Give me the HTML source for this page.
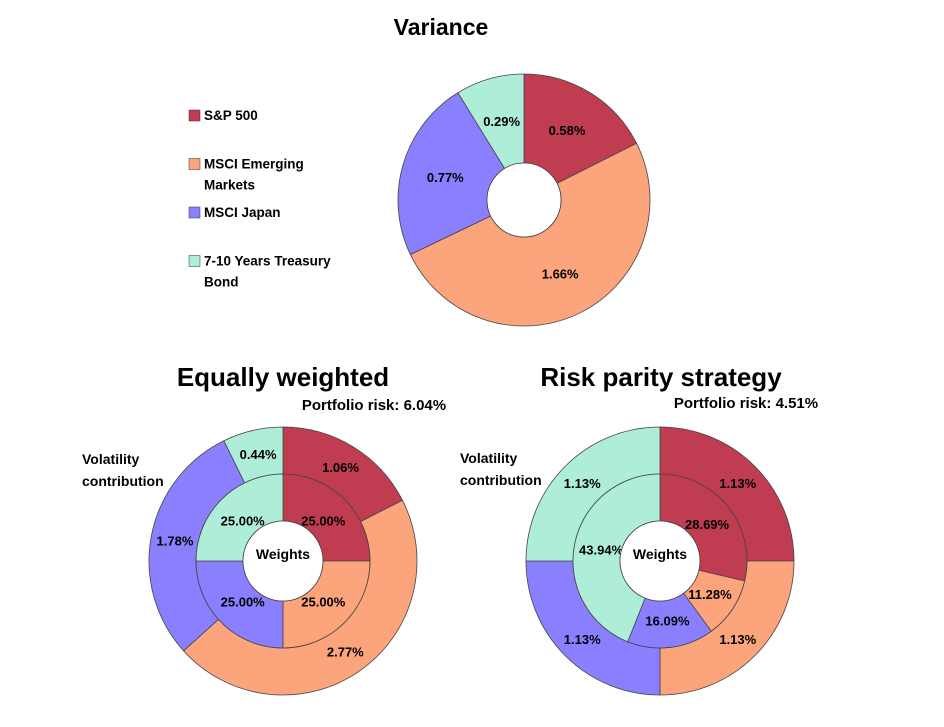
<!DOCTYPE html>
<html><head><meta charset="utf-8"><style>
body{margin:0;background:#fff;}
svg{display:block;font-family:"Liberation Sans",sans-serif;font-weight:bold;}
</style></head><body>
<svg id="chart" width="944" height="727" viewBox="0 0 944 727">
<text x="441" y="35" text-anchor="middle" font-size="23">Variance</text>
<text x="283" y="386" text-anchor="middle" font-size="26">Equally weighted</text>
<text x="661" y="386" text-anchor="middle" font-size="26">Risk parity strategy</text>
<text x="374" y="410" text-anchor="middle" font-size="15">Portfolio risk: 6.04%</text>
<text x="746" y="408" text-anchor="middle" font-size="15">Portfolio risk: 4.51%</text>
<text x="82" y="464" font-size="14">Volatility</text>
<text x="82" y="486" font-size="14">contribution</text>
<text x="460" y="463" font-size="14">Volatility</text>
<text x="460" y="485" font-size="14">contribution</text>
<g id="legend"></g>
<g id="pies"></g>
</svg>
<script>
const assets = ["S&P 500", "MSCI Emerging|Markets", "MSCI Japan", "7-10 Years Treasury|Bond"];
const colors = ["#c03c50", "#fca47c", "#8a80ff", "#aeeed8"];
const varianceValues = [0.58, 1.66, 0.77, 0.29];
const equalContrib = [1.06, 2.77, 1.78, 0.44];
const equalWeights = [25.00, 25.00, 25.00, 25.00];
const parityContrib = [1.13, 1.13, 1.13, 1.13];
const parityWeights = [28.69, 11.28, 16.09, 43.94];

const NS = "http://www.w3.org/2000/svg";
const pies = document.getElementById("pies");
const legend = document.getElementById("legend");

assets.forEach((a, i) => {
  const y = 110 + i * 48.5;
  const r = document.createElementNS(NS, "rect");
  r.setAttribute("x", 189); r.setAttribute("y", y); r.setAttribute("width", 11); r.setAttribute("height", 11);
  r.setAttribute("fill", colors[i]); r.setAttribute("stroke", "#333"); r.setAttribute("stroke-width", 0.5);
  
  
  legend.appendChild(r);
  a.split("|").forEach((line, k) => {
    const t = document.createElementNS(NS, "text");
    t.setAttribute("x", 204); t.setAttribute("y", y + 10 + k * 21);
    t.setAttribute("font-size", 13.5);
    t.textContent = line;
    
    
    legend.appendChild(t);
  });
});

function ring(cx, cy, r0, r1, vals, labels, labelR, name) {
  const tot = vals.reduce((s, v) => s + v, 0);
  let a = 0;
  vals.forEach((v, i) => {
    const a0 = a, a1 = a + v / tot * 2 * Math.PI; a = a1;
    const p = (ang, r) => [cx + r * Math.sin(ang), cy - r * Math.cos(ang)];
    const large = (a1 - a0) > Math.PI ? 1 : 0;
    const [x0, y0] = p(a0, r1), [x1, y1] = p(a1, r1), [x2, y2] = p(a1, r0), [x3, y3] = p(a0, r0);
    const d = `M${x0},${y0} A${r1},${r1} 0 ${large} 1 ${x1},${y1} L${x2},${y2} ` +
      (r0 > 0 ? `A${r0},${r0} 0 ${large} 0 ${x3},${y3}` : "") + " Z";
    const path = document.createElementNS(NS, "path");
    path.setAttribute("d", d); path.setAttribute("fill", colors[i]);
    path.setAttribute("stroke", "#444"); path.setAttribute("stroke-width", 0.8);
    
    
    pies.appendChild(path);
    const [lx, ly] = p((a0 + a1) / 2, labelR);
    const t = document.createElementNS(NS, "text");
    t.setAttribute("x", lx); t.setAttribute("y", ly + 5);
    t.setAttribute("text-anchor", "middle"); t.setAttribute("font-size", 13);
    t.textContent = labels[i];
    
    
    pies.appendChild(t);
  });
}
function hole(cx, cy, r, text) {
  const c = document.createElementNS(NS, "circle");
  c.setAttribute("cx", cx); c.setAttribute("cy", cy); c.setAttribute("r", r);
  c.setAttribute("fill", "#fff"); c.setAttribute("stroke", "#444"); c.setAttribute("stroke-width", 0.8);
  
  
  pies.appendChild(c);
  if (text) {
    const t = document.createElementNS(NS, "text");
    t.setAttribute("x", cx); t.setAttribute("y", cy - 2);
    t.setAttribute("text-anchor", "middle"); t.setAttribute("font-size", 14);
    t.textContent = text;
    
    
    pies.appendChild(t);
  }
}
const pct = v => v.toFixed(2) + "%";
ring(524, 200, 37, 126, varianceValues, varianceValues.map(pct), 82, "variance");
hole(524, 200, 37);
ring(283, 561, 87, 134, equalContrib, equalContrib.map(pct), 110, "equal-contribution");
ring(283, 561, 40, 87, equalWeights, equalWeights.map(pct), 57, "equal-weight");
hole(283, 561, 40, "Weights");
ring(660, 561, 87, 134, parityContrib, parityContrib.map(pct), 110, "parity-contribution");
ring(660, 561, 40, 87, parityWeights, parityWeights.map(pct), 60, "parity-weight");
hole(660, 561, 40, "Weights");
</script>
</body></html>
